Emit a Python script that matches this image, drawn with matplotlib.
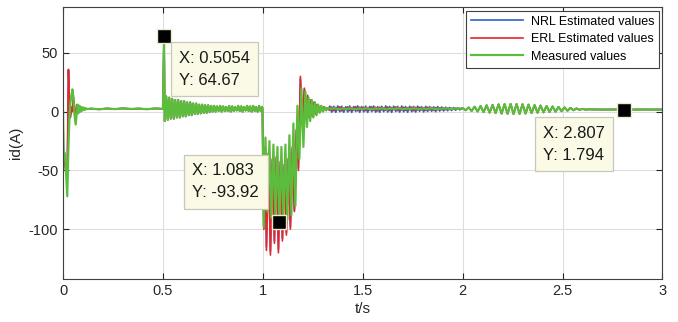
import numpy as np
import matplotlib
matplotlib.use("Agg")
import matplotlib.pyplot as plt

plt.rcParams['font.family'] = ['Liberation Sans', 'DejaVu Sans']
plt.rcParams['axes.unicode_minus'] = False

# start-up transient (0 - 0.12 s)
t_start = [0.0, 0.002, 0.008, 0.013, 0.021, 0.027, 0.032, 0.037, 0.042, 0.047, 0.052, 0.057,
           0.063, 0.068, 0.073, 0.078, 0.083, 0.088, 0.093, 0.098, 0.103, 0.108, 0.113, 0.120]
id_meas_start = [0, -38, -35, -45, -72, -30, -5, 8, 14, 19, 12, -2,
                 -11, -2, 6, -1, 5, 0, 4, 1, 3.5, 1.5, 3, 2.2]
id_erl_start = [0, -38, -42, -50, -55, 36, 8, -5, 4, 0, 12, 2,
                -8, 6, -2, 4, 0, 3, 1, 3, 1.5, 2.5, 2, 2.2]
id_nrl_start = [0, -38, -41, -49, -54, 35, 7, -4, 4, 1, 11, 2,
                -7, 5, -1, 4, 0.5, 3, 1, 3, 1.8, 2.4, 2, 2.2]

# steady state before the load step
t_flat = [0.14, 0.18, 0.22, 0.26, 0.30, 0.34, 0.38, 0.42, 0.46, 0.50]
id_flat = [2.6, 2.0, 2.7, 2.2, 2.8, 2.3, 2.6, 2.1, 2.7, 2.4]

# spike at 0.5 s and ringing
t_spike = [0.5054, 0.509, 0.5165, 0.524, 0.5315, 0.539, 0.5465, 0.554, 0.5615, 0.569, 0.5765,
           0.584, 0.5915, 0.599, 0.6065, 0.614, 0.6215, 0.629, 0.6365, 0.644, 0.6515, 0.659,
           0.6665, 0.674, 0.6815, 0.689, 0.6965, 0.704, 0.7115, 0.719, 0.7265, 0.734, 0.7415,
           0.749, 0.7565, 0.764, 0.7715, 0.779, 0.7865, 0.794, 0.8015, 0.809, 0.8165, 0.824,
           0.8315, 0.839, 0.8465, 0.854, 0.8615, 0.869, 0.8765, 0.884, 0.8915, 0.899, 0.9065,
           0.914, 0.9215, 0.929, 0.9365, 0.944, 0.9515, 0.959, 0.9665, 0.974, 0.9815, 0.989, 0.996]
id_spike = [64.67, -8, 13, -7, 12, -6, 11, -6, 10, -5, 10,
            -5, 9, -4, 9, -4, 8, -3, 8, -3, 7, -2,
            7, -2, 6, -1.5, 6, -1, 5.5, -1, 5.5, -0.5, 5,
            0, 5, 0, 4.5, 0.5, 5, 0, 4.5, 0.5, 4, 0.5,
            5, 0, 4.5, 0.5, 4, 1, 5, 0.5, 4.5, 0, 4,
            1, 5, 0.5, 4.5, 0, 5, 0.5, 4, 0, 5, 0.5, 4]

# dip after 1 s
t_dip = [0.998, 1.0, 1.004, 1.013, 1.023, 1.033, 1.043, 1.053, 1.063, 1.073, 1.083, 1.093,
         1.103, 1.113, 1.123, 1.133, 1.143, 1.153, 1.163, 1.173, 1.183, 1.193, 1.203, 1.213,
         1.221, 1.229, 1.237, 1.245, 1.253, 1.261, 1.269, 1.277, 1.285, 1.293, 1.301, 1.309,
         1.317, 1.325]
id_meas_dip = [3, -30, -98, -22, -85, -25, -90, -28, -88, -30, -93.92, -30,
               -90, -28, -92, -20, -88, -10, -80, 5, -40, 20, -30, 17,
               -13, 12, -8, 10, -5, 8, -3, 6, -1, 5, 0, 4,
               1, 3]
t_dip_est = [0.998, 1.0, 1.005, 1.012, 1.018, 1.028, 1.038, 1.048, 1.058, 1.068, 1.078, 1.088,
             1.098, 1.108, 1.118, 1.128, 1.138, 1.148, 1.158, 1.168, 1.178, 1.188, 1.198, 1.208,
             1.216, 1.224, 1.232, 1.240, 1.248, 1.256, 1.264, 1.272, 1.280, 1.288, 1.296, 1.304,
             1.312, 1.320, 1.328]
id_erl_dip = [3, -30, -100, -30, -118, -35, -122, -40, -112, -38, -120, -42,
              -110, -45, -105, -40, -100, -30, -85, -15, -50, 30, -12, 20,
              -6, 14, -5, 10, -4, 8, -2, 6, 0, 4.5, 1, 4,
              1.5, 3, 2]
id_nrl_dip = [3, -30, -99, -31, -115, -36, -119, -41, -110, -39, -117, -43,
              -108, -45, -103, -40, -98, -31, -84, -16, -48, 28, -11, 19,
              -6, 13, -5, 10, -4, 8, -2, 6, 0, 4.5, 1, 4,
              1.5, 3, 2]

# steady state 1.33 - 2.0 s
t_steady = [1.34, 1.36, 1.38, 1.40, 1.42, 1.44, 1.46, 1.48, 1.50, 1.52, 1.54, 1.56, 1.58,
            1.60, 1.62, 1.64, 1.66, 1.68, 1.70, 1.72, 1.74, 1.76, 1.78, 1.80, 1.82, 1.84,
            1.86, 1.88, 1.90, 1.92, 1.94, 1.96, 1.98]
id_meas_steady = [2.4, 2.9, 2.1, 2.7, 2.2, 2.8, 2.0, 2.6, 2.3, 2.9, 2.1, 2.6, 2.4,
                  2.8, 2.0, 2.7, 2.3, 2.9, 2.2, 2.6, 2.4, 2.8, 2.1, 2.7, 2.3, 2.9,
                  2.2, 2.6, 2.5, 2.9, 2.1, 2.7, 2.4]
t_steady_est = [1.335, 1.345, 1.355, 1.365, 1.375, 1.385, 1.395, 1.405, 1.415, 1.425, 1.435,
                1.445, 1.455, 1.465, 1.475, 1.485, 1.495, 1.505, 1.515, 1.525, 1.535, 1.545,
                1.555, 1.565, 1.575, 1.585, 1.595, 1.605, 1.615, 1.625, 1.635, 1.645, 1.655,
                1.665, 1.675, 1.685, 1.695, 1.705, 1.715, 1.725, 1.735, 1.745, 1.755, 1.765,
                1.775, 1.785, 1.795, 1.805, 1.815, 1.825, 1.835, 1.845, 1.855, 1.865, 1.875,
                1.885, 1.895, 1.905, 1.915, 1.925, 1.935, 1.945, 1.955, 1.965, 1.975, 1.985, 1.995]
id_erl_steady = [1.0, 4.0, 0.8, 3.6, 1.5, 4.2, 0.6, 3.2, 1.8, 4.1, 0.9, 3.5, 1.2, 4.3, 0.7,
                 3.8, 1.6, 3.9, 0.8, 3.4, 1.4, 4.2, 1.0, 3.7, 0.6, 3.9, 1.5, 3.3, 1.1, 4.0,
                 0.9, 3.6, 1.7, 4.1, 0.8, 3.5, 1.3, 3.9, 1.0, 3.4, 1.6, 4.0, 0.7, 3.7, 1.2,
                 3.8, 1.5, 3.3, 1.0, 3.9, 1.4, 3.6, 1.1, 3.5, 1.6, 3.4, 1.5, 3.2, 1.7, 3.1,
                 1.8, 3.0, 2.0, 2.9, 2.1, 2.8, 2.3]
id_nrl_steady = [4.8, -0.4, 4.5, -0.6, 4.9, 0.0, 4.6, -0.5, 4.2, -0.3, 4.8, -0.6, 4.4, 0.2,
                 4.9, -0.5, 4.3, -0.2, 4.7, -0.6, 4.5, 0.1, 4.8, -0.4, 4.2, -0.5, 4.6, 0.0,
                 4.9, -0.3, 4.4, -0.6, 4.7, 0.2, 4.5, -0.4, 4.8, -0.1, 4.3, -0.5, 4.6, 0.0,
                 4.4, -0.3, 4.7, 0.3, 4.2, -0.2, 4.5, 0.2, 4.3, 0.4, 4.1, 0.0, 4.4, 0.5,
                 4.0, 0.6, 3.8, 0.8, 3.6, 1.0, 3.5, 1.2, 3.3, 1.5, 3.0]

# low-frequency ripple 2.0 - 2.63 s
t_wave = [2.000, 2.015, 2.030, 2.045, 2.060, 2.075, 2.090, 2.105, 2.120, 2.135, 2.150,
          2.165, 2.180, 2.195, 2.210, 2.225, 2.240, 2.255, 2.270, 2.285, 2.300, 2.315,
          2.330, 2.345, 2.360, 2.375, 2.390, 2.405, 2.420, 2.435, 2.450, 2.465, 2.480,
          2.495, 2.510, 2.525, 2.540, 2.555, 2.570, 2.585, 2.600, 2.615, 2.630]
id_wave = [3.0, 1.2, 3.6, 0.6, 4.2, 0.2, 4.8, -0.4, 5.4, -0.8, 5.8,
           -1.2, 6.2, -1.6, 6.4, -1.8, 6.6, -2.0, 6.5, -1.9, 6.3, -1.6,
           6.0, -1.2, 5.6, -0.9, 5.2, -0.6, 4.8, -0.3, 4.4, 0.0, 4.0,
           0.4, 3.6, 0.8, 3.2, 1.2, 2.8, 1.5, 2.4, 1.7, 2.0]

t_tail = [2.65, 2.70, 2.75, 2.807, 2.85, 2.90, 2.95, 3.0]
id_tail = [1.9, 1.8, 1.85, 1.794, 1.8, 1.85, 1.8, 1.8]

# data tips
tip_t = [0.5054, 1.083, 2.807]
tip_id = [64.67, -93.92, 1.794]
tip_offset = [(15, -15), (-87, 59), (-81, -16)]

t_meas = np.concatenate([t_start, t_flat, t_spike, t_dip, t_steady, t_wave, t_tail])
id_meas = np.concatenate([id_meas_start, id_flat, id_spike, id_meas_dip, id_meas_steady, id_wave, id_tail])
t_est = np.concatenate([t_start, t_flat, t_spike, t_dip_est, t_steady_est, t_wave, t_tail])
id_erl = np.concatenate([id_erl_start, id_flat, id_spike, id_erl_dip, id_erl_steady, id_wave, id_tail])
id_nrl = np.concatenate([id_nrl_start, id_flat, id_spike, id_nrl_dip, id_nrl_steady, id_wave, id_tail])

fig = plt.figure(figsize=(6.78, 3.22), dpi=100)
ax = fig.add_axes([0.093, 0.133, 0.884, 0.844])

ax.plot(t_est, id_nrl, color='#2f5fc4', lw=1.2, label='NRL Estimated values')
ax.plot(t_est, id_erl, color='#e8262a', lw=1.2, label='ERL Estimated values')
ax.plot(t_meas, id_meas, color='#5cbd3c', lw=1.6, label='Measured values')

ax.set_xlim(0, 3)
ax.set_ylim(-142.5, 88.7)
ax.set_xticks([0, 0.5, 1, 1.5, 2, 2.5, 3])
ax.set_xticklabels(['0', '0.5', '1', '1.5', '2', '2.5', '3'])
ax.set_yticks([-100, -50, 0, 50])
ax.grid(True, color='#dedede', lw=0.8)
ax.set_axisbelow(True)
ax.tick_params(direction='in', top=True, right=True, length=4, width=0.8,
               colors='#262626', labelsize=10.5)
for s in ax.spines.values():
    s.set_color('#404040')
    s.set_linewidth(0.8)

ax.set_xlabel('t/s', fontsize=11, color='#262626', labelpad=3)
ax.set_ylabel('id(A)', fontsize=11, color='#262626', labelpad=4)

leg = ax.legend(loc='upper right', fontsize=9, handlelength=4.2, borderaxespad=0.25,
                labelspacing=0.45, borderpad=0.4, handletextpad=0.6, fancybox=False,
                framealpha=1, edgecolor='#404040')
leg.get_frame().set_linewidth(0.8)

for (tx, ty), off in zip(zip(tip_t, tip_id), tip_offset):
    ax.plot(tx, ty, 's', ms=9.5, mfc='black', mec='#ecebd0', mew=1.0, zorder=6)
    ax.annotate(f'X: {tx:.4g}\nY: {ty:.4g}', xy=(tx, ty), xytext=off,
                textcoords='offset pixels', ha='left', va='top', fontsize=12,
                linespacing=1.6, color='#1a1a1a', zorder=7,
                bbox=dict(boxstyle='square,pad=0.5', fc='#fafae6', ec='#c8c8b8', lw=0.9))

fig.savefig('out.png', dpi=100)
